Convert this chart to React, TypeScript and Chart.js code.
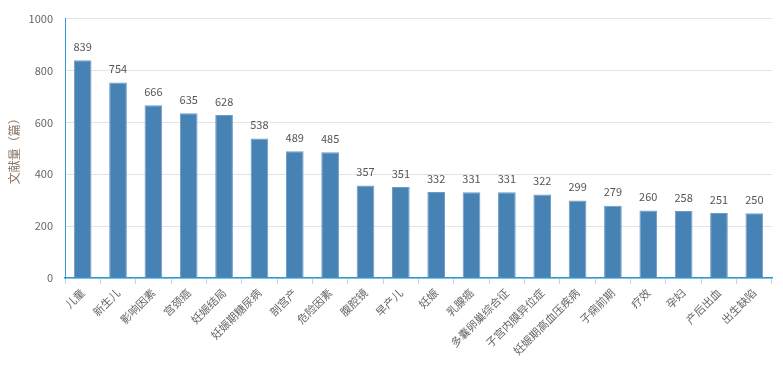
import React, { useEffect, useRef } from "react";
import { Chart, registerables } from "chart.js";

Chart.register(...registerables);

const categories = [
  "儿童", "新生儿", "影响因素", "宫颈癌", "妊娠结局", "妊娠期糖尿病", "剖宫产", "危险因素",
  "腹腔镜", "早产儿", "妊娠", "乳腺癌", "多囊卵巢综合征", "子宫内膜异位症", "妊娠期高血压疾病",
  "子痫前期", "疗效", "孕妇", "产后出血", "出生缺陷",
];
const counts = [839, 754, 666, 635, 628, 538, 489, 485, 357, 351, 332, 331, 331, 322, 299, 279, 260, 258, 251, 250];
const yTitle = "文献量（篇）";
const FONT = "'Noto Sans CJK SC', 'Noto Sans', sans-serif";

const labelPlugin = {
  id: "barLabels",
  afterDatasetsDraw(chart: any) {
    const ctx = chart.ctx;
    const meta = chart.getDatasetMeta(0);
    ctx.save();
    ctx.font = `11px ${FONT}`;
    ctx.fillStyle = "#555";
    ctx.textAlign = "center";
    ctx.textBaseline = "bottom";
    meta.data.forEach((bar: any, i: number) => {
      ctx.fillText(String(counts[i]), bar.x, bar.y - 8);
    });
    ctx.restore();
  },
};

export default function App() {
  const ref = useRef<HTMLCanvasElement>(null);
  useEffect(() => {
    document.body.style.margin = "0";
    const chart = new Chart(ref.current!, {
      type: "bar",
      data: {
        labels: categories,
        datasets: [
          {
            data: counts,
            backgroundColor: "#4682B4",
            borderColor: "#6d9cc6",
            borderWidth: { top: 1, left: 1, right: 1, bottom: 0 } as any,
            barPercentage: 0.5,
            categoryPercentage: 1,
          },
        ],
      },
      options: {
        animation: false,
        responsive: false,
        maintainAspectRatio: false,
        layout: { padding: { left: 0, right: 11, top: 17, bottom: 0 } },
        plugins: { legend: { display: false }, tooltip: { enabled: false } },
        scales: {
          x: {
            afterFit: (s: any) => { s.height = 100; },
            border: { display: true, color: "#2a9ad8", width: 1.5 },
            grid: { drawOnChartArea: false, drawTicks: true, tickLength: 6, color: "#c6d3e0", offset: true },
            ticks: {
              autoSkip: false,
              maxRotation: 45,
              minRotation: 45,
              padding: 2,
              color: "#666",
              font: { family: FONT, size: 11 },
            },
          },
          y: {
            min: 0,
            max: 1000,
            afterFit: (s: any) => { s.width = 65; },
            border: { display: true, color: "#2a9ad8", width: 1 },
            grid: { color: "#e3e3e3", drawTicks: false, lineWidth: 1 },
            ticks: {
              stepSize: 200,
              padding: 12,
              color: "#666",
              font: { family: FONT, size: 11 },
              callback: (v: any) => String(v),
            },
            title: {
              display: true,
              text: yTitle,
              color: "#8a7565",
              font: { family: FONT, size: 12 },
              padding: { top: 7, bottom: 0 },
            },
          },
        },
      },
      plugins: [labelPlugin],
    });
    return () => chart.destroy();
  }, []);
  return (
    <div style={{ position: "absolute", left: 0, top: 0, width: 783, height: 378 }}>
      <canvas ref={ref} width={783} height={378} style={{ width: 783, height: 378 }} />
    </div>
  );
}
